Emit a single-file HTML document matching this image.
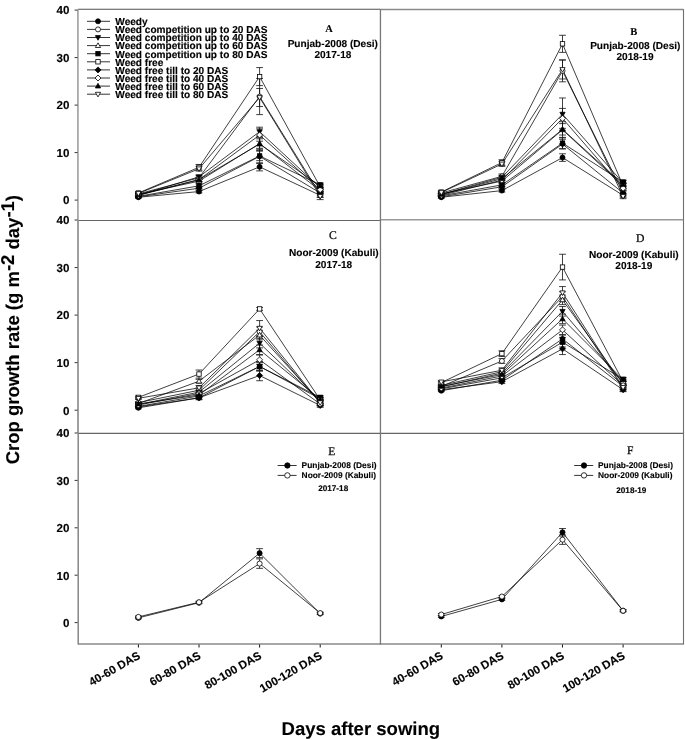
<!DOCTYPE html><html><head><meta charset="utf-8"><style>html,body{margin:0;padding:0;background:#fff;width:685px;height:740px;overflow:hidden}svg{display:block;filter:grayscale(1)}text{font-family:"Liberation Sans",sans-serif;font-weight:bold;fill:#000;text-rendering:geometricPrecision;stroke:#000;stroke-width:0.12px}.sr{font-family:"Liberation Serif",serif}</style></head><body>
<svg width="685" height="740" viewBox="0 0 685 740">
<g fill="none">
<path d="M78 9.3H380.5" stroke="#505050" stroke-width="1.1"/>
<path d="M380.5 9.6H683.5" stroke="#8a8a8a" stroke-width="1.5"/>
<path d="M78 220.5H380.5" stroke="#666" stroke-width="1.2"/>
<path d="M380.5 219.8H683.5" stroke="#999" stroke-width="1.6"/>
<path d="M78 433.4H683.5" stroke="#666" stroke-width="1.2"/>
<path d="M78 644H683.5" stroke="#888" stroke-width="1.6"/>
<path d="M77.9 9.3V220" stroke="#a8a8a8" stroke-width="1.8"/>
<path d="M78.0 220V433.4" stroke="#959595" stroke-width="1.8"/>
<path d="M78.2 433.4V644.5" stroke="#858585" stroke-width="1.5"/>
<path d="M380.45 9.3V644.5" stroke="#777" stroke-width="1.3"/>
<path d="M683.5 9.3V644.5" stroke="#707070" stroke-width="1.1"/>
</g>
<g stroke="#333" stroke-width="1">
<line x1="74.6" y1="200.10" x2="77.5" y2="200.10"/>
<line x1="74.6" y1="152.60" x2="77.5" y2="152.60"/>
<line x1="74.6" y1="105.10" x2="77.5" y2="105.10"/>
<line x1="74.6" y1="57.60" x2="77.5" y2="57.60"/>
<line x1="74.6" y1="10.10" x2="77.5" y2="10.10"/>
<line x1="74.6" y1="410.20" x2="77.5" y2="410.20"/>
<line x1="74.6" y1="362.65" x2="77.5" y2="362.65"/>
<line x1="74.6" y1="315.10" x2="77.5" y2="315.10"/>
<line x1="74.6" y1="267.55" x2="77.5" y2="267.55"/>
<line x1="74.6" y1="220.00" x2="77.5" y2="220.00"/>
<line x1="74.6" y1="622.60" x2="77.5" y2="622.60"/>
<line x1="74.6" y1="575.20" x2="77.5" y2="575.20"/>
<line x1="74.6" y1="527.80" x2="77.5" y2="527.80"/>
<line x1="74.6" y1="480.40" x2="77.5" y2="480.40"/>
<line x1="74.6" y1="433.00" x2="77.5" y2="433.00"/>
</g>
<text x="69.4" y="204.40" font-size="11.6" text-anchor="end">0</text>
<text x="69.4" y="156.90" font-size="11.6" text-anchor="end">10</text>
<text x="69.4" y="109.40" font-size="11.6" text-anchor="end">20</text>
<text x="69.4" y="61.90" font-size="11.6" text-anchor="end">30</text>
<text x="69.4" y="14.40" font-size="11.6" text-anchor="end">40</text>
<text x="69.4" y="414.50" font-size="11.6" text-anchor="end">0</text>
<text x="69.4" y="366.95" font-size="11.6" text-anchor="end">10</text>
<text x="69.4" y="319.40" font-size="11.6" text-anchor="end">20</text>
<text x="69.4" y="271.85" font-size="11.6" text-anchor="end">30</text>
<text x="69.4" y="224.30" font-size="11.6" text-anchor="end">40</text>
<text x="69.4" y="626.90" font-size="11.6" text-anchor="end">0</text>
<text x="69.4" y="579.50" font-size="11.6" text-anchor="end">10</text>
<text x="69.4" y="532.10" font-size="11.6" text-anchor="end">20</text>
<text x="69.4" y="484.70" font-size="11.6" text-anchor="end">30</text>
<text x="69.4" y="437.30" font-size="11.6" text-anchor="end">40</text>
<g stroke="#111" stroke-width="1">
<line x1="138.40" y1="644.5" x2="138.40" y2="647.5"/>
<line x1="199.00" y1="644.5" x2="199.00" y2="647.5"/>
<line x1="259.60" y1="644.5" x2="259.60" y2="647.5"/>
<line x1="320.20" y1="644.5" x2="320.20" y2="647.5"/>
<line x1="441.30" y1="644.5" x2="441.30" y2="647.5"/>
<line x1="501.90" y1="644.5" x2="501.90" y2="647.5"/>
<line x1="562.50" y1="644.5" x2="562.50" y2="647.5"/>
<line x1="623.10" y1="644.5" x2="623.10" y2="647.5"/>
</g>
<text font-size="11.5" text-anchor="end" transform="translate(141.10,657.8) rotate(-30)">40-60 DAS</text>
<text font-size="11.5" text-anchor="end" transform="translate(201.70,657.8) rotate(-30)">60-80 DAS</text>
<text font-size="11.5" text-anchor="end" transform="translate(262.30,657.8) rotate(-30)">80-100 DAS</text>
<text font-size="11.5" text-anchor="end" transform="translate(322.90,657.8) rotate(-30)">100-120 DAS</text>
<text font-size="11.5" text-anchor="end" transform="translate(444.00,657.8) rotate(-30)">40-60 DAS</text>
<text font-size="11.5" text-anchor="end" transform="translate(504.60,657.8) rotate(-30)">60-80 DAS</text>
<text font-size="11.5" text-anchor="end" transform="translate(565.20,657.8) rotate(-30)">80-100 DAS</text>
<text font-size="11.5" text-anchor="end" transform="translate(625.80,657.8) rotate(-30)">100-120 DAS</text>
<text x="360.8" y="735.3" font-size="18.55" text-anchor="middle">Days after sowing</text>
<text font-size="18.5" text-anchor="middle" transform="translate(19.25,329.65) rotate(-90)">Crop growth rate (g m<tspan dy="-4.85">-2</tspan><tspan dy="4.85"> day</tspan><tspan dy="-4.85">-1</tspan><tspan dy="4.85">)</tspan></text>
<path d="M138.40 197.25L199.00 191.55L259.60 166.85L320.20 195.35" fill="none" stroke="#000" stroke-width="0.75"/><path d="M138.40 196.30V198.20M135.00 196.30H141.80M135.00 198.20H141.80" stroke="#111" stroke-width="0.8" fill="none"/><path d="M199.00 190.12V192.97M195.60 190.12H202.40M195.60 192.97H202.40" stroke="#111" stroke-width="0.8" fill="none"/><path d="M259.60 162.81V170.89M256.20 162.81H263.00M256.20 170.89H263.00" stroke="#111" stroke-width="0.8" fill="none"/><path d="M320.20 193.45V197.25M316.80 193.45H323.60M316.80 197.25H323.60" stroke="#111" stroke-width="0.8" fill="none"/><path d="M138.40 193.92L199.00 177.78L259.60 96.55L320.20 194.40" fill="none" stroke="#000" stroke-width="0.75"/><path d="M138.40 192.97V194.88M135.00 192.97H141.80M135.00 194.88H141.80" stroke="#111" stroke-width="0.8" fill="none"/><path d="M199.00 175.88V179.67M195.60 175.88H202.40M195.60 179.67H202.40" stroke="#111" stroke-width="0.8" fill="none"/><path d="M259.60 78.50V114.60M256.20 78.50H263.00M256.20 114.60H263.00" stroke="#111" stroke-width="0.8" fill="none"/><path d="M320.20 191.55V197.25M316.80 191.55H323.60M316.80 197.25H323.60" stroke="#111" stroke-width="0.8" fill="none"/><path d="M138.40 195.35L199.00 176.82L259.60 131.70L320.20 187.75" fill="none" stroke="#000" stroke-width="0.75"/><path d="M138.40 194.40V196.30M135.00 194.40H141.80M135.00 196.30H141.80" stroke="#111" stroke-width="0.8" fill="none"/><path d="M199.00 174.92V178.72M195.60 174.92H202.40M195.60 178.72H202.40" stroke="#111" stroke-width="0.8" fill="none"/><path d="M259.60 127.19V136.21M256.20 127.19H263.00M256.20 136.21H263.00" stroke="#111" stroke-width="0.8" fill="none"/><path d="M320.20 185.38V190.12M316.80 185.38H323.60M316.80 190.12H323.60" stroke="#111" stroke-width="0.8" fill="none"/><path d="M138.40 194.40L199.00 181.10L259.60 143.57L320.20 190.60" fill="none" stroke="#000" stroke-width="0.75"/><path d="M138.40 193.45V195.35M135.00 193.45H141.80M135.00 195.35H141.80" stroke="#111" stroke-width="0.8" fill="none"/><path d="M199.00 179.20V183.00M195.60 179.20H202.40M195.60 183.00H202.40" stroke="#111" stroke-width="0.8" fill="none"/><path d="M259.60 138.82V148.32M256.20 138.82H263.00M256.20 148.32H263.00" stroke="#111" stroke-width="0.8" fill="none"/><path d="M320.20 188.22V192.97M316.80 188.22H323.60M316.80 192.97H323.60" stroke="#111" stroke-width="0.8" fill="none"/><path d="M138.40 196.30L199.00 185.85L259.60 155.92L320.20 184.90" fill="none" stroke="#000" stroke-width="0.75"/><path d="M138.40 195.35V197.25M135.00 195.35H141.80M135.00 197.25H141.80" stroke="#111" stroke-width="0.8" fill="none"/><path d="M199.00 183.95V187.75M195.60 183.95H202.40M195.60 187.75H202.40" stroke="#111" stroke-width="0.8" fill="none"/><path d="M259.60 151.17V160.67M256.20 151.17H263.00M256.20 160.67H263.00" stroke="#111" stroke-width="0.8" fill="none"/><path d="M320.20 183.00V186.80M316.80 183.00H323.60M316.80 186.80H323.60" stroke="#111" stroke-width="0.8" fill="none"/><path d="M138.40 192.97L199.00 167.32L259.60 76.60L320.20 186.80" fill="none" stroke="#000" stroke-width="0.75"/><path d="M138.40 191.55V194.40M135.00 191.55H141.80M135.00 194.40H141.80" stroke="#111" stroke-width="0.8" fill="none"/><path d="M199.00 164.47V170.17M195.60 164.47H202.40M195.60 170.17H202.40" stroke="#111" stroke-width="0.8" fill="none"/><path d="M259.60 67.57V85.62M256.20 67.57H263.00M256.20 85.62H263.00" stroke="#111" stroke-width="0.8" fill="none"/><path d="M320.20 184.42V189.17M316.80 184.42H323.60M316.80 189.17H323.60" stroke="#111" stroke-width="0.8" fill="none"/><path d="M138.40 196.78L199.00 188.22L259.60 156.40L320.20 192.97" fill="none" stroke="#000" stroke-width="0.75"/><path d="M138.40 195.82V197.72M135.00 195.82H141.80M135.00 197.72H141.80" stroke="#111" stroke-width="0.8" fill="none"/><path d="M199.00 186.32V190.12M195.60 186.32H202.40M195.60 190.12H202.40" stroke="#111" stroke-width="0.8" fill="none"/><path d="M259.60 149.28V163.53M256.20 149.28H263.00M256.20 163.53H263.00" stroke="#111" stroke-width="0.8" fill="none"/><path d="M320.20 191.07V194.88M316.80 191.07H323.60M316.80 194.88H323.60" stroke="#111" stroke-width="0.8" fill="none"/><path d="M138.40 195.35L199.00 179.67L259.60 135.02L320.20 189.65" fill="none" stroke="#000" stroke-width="0.75"/><path d="M138.40 194.40V196.30M135.00 194.40H141.80M135.00 196.30H141.80" stroke="#111" stroke-width="0.8" fill="none"/><path d="M199.00 177.78V181.57M195.60 177.78H202.40M195.60 181.57H202.40" stroke="#111" stroke-width="0.8" fill="none"/><path d="M259.60 128.85V141.20M256.20 128.85H263.00M256.20 141.20H263.00" stroke="#111" stroke-width="0.8" fill="none"/><path d="M320.20 187.75V191.55M316.80 187.75H323.60M316.80 191.55H323.60" stroke="#111" stroke-width="0.8" fill="none"/><path d="M138.40 194.88L199.00 179.67L259.60 144.05L320.20 185.85" fill="none" stroke="#000" stroke-width="0.75"/><path d="M138.40 193.92V195.82M135.00 193.92H141.80M135.00 195.82H141.80" stroke="#111" stroke-width="0.8" fill="none"/><path d="M199.00 177.78V181.57M195.60 177.78H202.40M195.60 181.57H202.40" stroke="#111" stroke-width="0.8" fill="none"/><path d="M259.60 137.64V150.46M256.20 137.64H263.00M256.20 150.46H263.00" stroke="#111" stroke-width="0.8" fill="none"/><path d="M320.20 183.95V187.75M316.80 183.95H323.60M316.80 187.75H323.60" stroke="#111" stroke-width="0.8" fill="none"/><path d="M138.40 193.45L199.00 168.75L259.60 97.50L320.20 196.30" fill="none" stroke="#000" stroke-width="0.75"/><path d="M138.40 192.50V194.40M135.00 192.50H141.80M135.00 194.40H141.80" stroke="#111" stroke-width="0.8" fill="none"/><path d="M199.00 166.38V171.12M195.60 166.38H202.40M195.60 171.12H202.40" stroke="#111" stroke-width="0.8" fill="none"/><path d="M259.60 88.47V106.52M256.20 88.47H263.00M256.20 106.52H263.00" stroke="#111" stroke-width="0.8" fill="none"/><path d="M320.20 192.97V199.62M316.80 192.97H323.60M316.80 199.62H323.60" stroke="#111" stroke-width="0.8" fill="none"/>
<circle cx="138.40" cy="197.25" r="2.50" fill="#000" stroke="#000" stroke-width="0.8"/>
<circle cx="199.00" cy="191.55" r="2.50" fill="#000" stroke="#000" stroke-width="0.8"/>
<circle cx="259.60" cy="166.85" r="2.50" fill="#000" stroke="#000" stroke-width="0.8"/>
<circle cx="320.20" cy="195.35" r="2.50" fill="#000" stroke="#000" stroke-width="0.8"/>
<circle cx="138.40" cy="193.92" r="2.50" fill="#fff" stroke="#000" stroke-width="0.8"/>
<circle cx="199.00" cy="177.78" r="2.50" fill="#fff" stroke="#000" stroke-width="0.8"/>
<circle cx="259.60" cy="96.55" r="2.50" fill="#fff" stroke="#000" stroke-width="0.8"/>
<circle cx="320.20" cy="194.40" r="2.50" fill="#fff" stroke="#000" stroke-width="0.8"/>
<path d="M138.40 198.10L141.03 193.47L135.78 193.47Z" fill="#000" stroke="#000" stroke-width="0.8"/>
<path d="M199.00 179.57L201.62 174.95L196.38 174.95Z" fill="#000" stroke="#000" stroke-width="0.8"/>
<path d="M259.60 134.45L262.23 129.82L256.98 129.82Z" fill="#000" stroke="#000" stroke-width="0.8"/>
<path d="M320.20 190.50L322.83 185.88L317.58 185.88Z" fill="#000" stroke="#000" stroke-width="0.8"/>
<path d="M138.40 191.65L141.03 196.28L135.78 196.28Z" fill="#fff" stroke="#000" stroke-width="0.8"/>
<path d="M199.00 178.35L201.62 182.97L196.38 182.97Z" fill="#fff" stroke="#000" stroke-width="0.8"/>
<path d="M259.60 140.82L262.23 145.45L256.98 145.45Z" fill="#fff" stroke="#000" stroke-width="0.8"/>
<path d="M320.20 187.85L322.83 192.47L317.58 192.47Z" fill="#fff" stroke="#000" stroke-width="0.8"/>
<rect x="136.20" y="194.10" width="4.40" height="4.40" fill="#000" stroke="#000" stroke-width="0.8"/>
<rect x="196.80" y="183.65" width="4.40" height="4.40" fill="#000" stroke="#000" stroke-width="0.8"/>
<rect x="257.40" y="153.72" width="4.40" height="4.40" fill="#000" stroke="#000" stroke-width="0.8"/>
<rect x="318.00" y="182.70" width="4.40" height="4.40" fill="#000" stroke="#000" stroke-width="0.8"/>
<rect x="136.20" y="190.78" width="4.40" height="4.40" fill="#fff" stroke="#000" stroke-width="0.8"/>
<rect x="196.80" y="165.12" width="4.40" height="4.40" fill="#fff" stroke="#000" stroke-width="0.8"/>
<rect x="257.40" y="74.40" width="4.40" height="4.40" fill="#fff" stroke="#000" stroke-width="0.8"/>
<rect x="318.00" y="184.60" width="4.40" height="4.40" fill="#fff" stroke="#000" stroke-width="0.8"/>
<path d="M138.40 193.78L141.40 196.78L138.40 199.78L135.40 196.78Z" fill="#000" stroke="#000" stroke-width="0.8"/>
<path d="M199.00 185.22L202.00 188.22L199.00 191.22L196.00 188.22Z" fill="#000" stroke="#000" stroke-width="0.8"/>
<path d="M259.60 153.40L262.60 156.40L259.60 159.40L256.60 156.40Z" fill="#000" stroke="#000" stroke-width="0.8"/>
<path d="M320.20 189.97L323.20 192.97L320.20 195.97L317.20 192.97Z" fill="#000" stroke="#000" stroke-width="0.8"/>
<path d="M138.40 192.35L141.40 195.35L138.40 198.35L135.40 195.35Z" fill="#fff" stroke="#000" stroke-width="0.8"/>
<path d="M199.00 176.67L202.00 179.67L199.00 182.67L196.00 179.67Z" fill="#fff" stroke="#000" stroke-width="0.8"/>
<path d="M259.60 132.02L262.60 135.02L259.60 138.02L256.60 135.02Z" fill="#fff" stroke="#000" stroke-width="0.8"/>
<path d="M320.20 186.65L323.20 189.65L320.20 192.65L317.20 189.65Z" fill="#fff" stroke="#000" stroke-width="0.8"/>
<path d="M138.40 192.12L141.03 196.75L135.78 196.75Z" fill="#000" stroke="#000" stroke-width="0.8"/>
<path d="M199.00 176.92L201.62 181.55L196.38 181.55Z" fill="#000" stroke="#000" stroke-width="0.8"/>
<path d="M259.60 141.30L262.23 145.93L256.98 145.93Z" fill="#000" stroke="#000" stroke-width="0.8"/>
<path d="M320.20 183.10L322.83 187.72L317.58 187.72Z" fill="#000" stroke="#000" stroke-width="0.8"/>
<path d="M138.40 196.20L141.03 191.57L135.78 191.57Z" fill="#fff" stroke="#000" stroke-width="0.8"/>
<path d="M199.00 171.50L201.62 166.88L196.38 166.88Z" fill="#fff" stroke="#000" stroke-width="0.8"/>
<path d="M259.60 100.25L262.23 95.62L256.98 95.62Z" fill="#fff" stroke="#000" stroke-width="0.8"/>
<path d="M320.20 199.05L322.83 194.42L317.58 194.42Z" fill="#fff" stroke="#000" stroke-width="0.8"/>
<path d="M441.30 197.25L501.90 190.60L562.50 157.59L623.10 195.35" fill="none" stroke="#000" stroke-width="0.75"/><path d="M441.30 196.30V198.20M437.90 196.30H444.70M437.90 198.20H444.70" stroke="#111" stroke-width="0.8" fill="none"/><path d="M501.90 189.17V192.03M498.50 189.17H505.30M498.50 192.03H505.30" stroke="#111" stroke-width="0.8" fill="none"/><path d="M562.50 153.79V161.39M559.10 153.79H565.90M559.10 161.39H565.90" stroke="#111" stroke-width="0.8" fill="none"/><path d="M623.10 193.45V197.25M619.70 193.45H626.50M619.70 197.25H626.50" stroke="#111" stroke-width="0.8" fill="none"/><path d="M441.30 192.97L501.90 176.35L562.50 70.90L623.10 192.97" fill="none" stroke="#000" stroke-width="0.75"/><path d="M441.30 192.03V193.92M437.90 192.03H444.70M437.90 193.92H444.70" stroke="#111" stroke-width="0.8" fill="none"/><path d="M501.90 173.97V178.72M498.50 173.97H505.30M498.50 178.72H505.30" stroke="#111" stroke-width="0.8" fill="none"/><path d="M562.50 59.97V81.82M559.10 59.97H565.90M559.10 81.82H565.90" stroke="#111" stroke-width="0.8" fill="none"/><path d="M623.10 190.12V195.82M619.70 190.12H626.50M619.70 195.82H626.50" stroke="#111" stroke-width="0.8" fill="none"/><path d="M441.30 194.40L501.90 177.30L562.50 114.12L623.10 183.00" fill="none" stroke="#000" stroke-width="0.75"/><path d="M441.30 193.45V195.35M437.90 193.45H444.70M437.90 195.35H444.70" stroke="#111" stroke-width="0.8" fill="none"/><path d="M501.90 175.40V179.20M498.50 175.40H505.30M498.50 179.20H505.30" stroke="#111" stroke-width="0.8" fill="none"/><path d="M562.50 97.97V130.27M559.10 97.97H565.90M559.10 130.27H565.90" stroke="#111" stroke-width="0.8" fill="none"/><path d="M623.10 180.62V185.38M619.70 180.62H626.50M619.70 185.38H626.50" stroke="#111" stroke-width="0.8" fill="none"/><path d="M441.30 193.92L501.90 181.10L562.50 129.80L623.10 185.85" fill="none" stroke="#000" stroke-width="0.75"/><path d="M441.30 192.97V194.88M437.90 192.97H444.70M437.90 194.88H444.70" stroke="#111" stroke-width="0.8" fill="none"/><path d="M501.90 179.20V183.00M498.50 179.20H505.30M498.50 183.00H505.30" stroke="#111" stroke-width="0.8" fill="none"/><path d="M562.50 121.72V137.88M559.10 121.72H565.90M559.10 137.88H565.90" stroke="#111" stroke-width="0.8" fill="none"/><path d="M623.10 183.47V188.22M619.70 183.47H626.50M619.70 188.22H626.50" stroke="#111" stroke-width="0.8" fill="none"/><path d="M441.30 195.82L501.90 184.90L562.50 143.10L623.10 182.05" fill="none" stroke="#000" stroke-width="0.75"/><path d="M441.30 194.88V196.78M437.90 194.88H444.70M437.90 196.78H444.70" stroke="#111" stroke-width="0.8" fill="none"/><path d="M501.90 183.00V186.80M498.50 183.00H505.30M498.50 186.80H505.30" stroke="#111" stroke-width="0.8" fill="none"/><path d="M562.50 137.40V148.80M559.10 137.40H565.90M559.10 148.80H565.90" stroke="#111" stroke-width="0.8" fill="none"/><path d="M623.10 180.15V183.95M619.70 180.15H626.50M619.70 183.95H626.50" stroke="#111" stroke-width="0.8" fill="none"/><path d="M441.30 192.03L501.90 162.57L562.50 43.82L623.10 185.85" fill="none" stroke="#000" stroke-width="0.75"/><path d="M441.30 190.60V193.45M437.90 190.60H444.70M437.90 193.45H444.70" stroke="#111" stroke-width="0.8" fill="none"/><path d="M501.90 159.72V165.42M498.50 159.72H505.30M498.50 165.42H505.30" stroke="#111" stroke-width="0.8" fill="none"/><path d="M562.50 35.28V52.38M559.10 35.28H565.90M559.10 52.38H565.90" stroke="#111" stroke-width="0.8" fill="none"/><path d="M623.10 183.47V188.22M619.70 183.47H626.50M619.70 188.22H626.50" stroke="#111" stroke-width="0.8" fill="none"/><path d="M441.30 196.78L501.90 186.80L562.50 144.05L623.10 192.97" fill="none" stroke="#000" stroke-width="0.75"/><path d="M441.30 195.82V197.72M437.90 195.82H444.70M437.90 197.72H444.70" stroke="#111" stroke-width="0.8" fill="none"/><path d="M501.90 184.90V188.70M498.50 184.90H505.30M498.50 188.70H505.30" stroke="#111" stroke-width="0.8" fill="none"/><path d="M562.50 139.30V148.80M559.10 139.30H565.90M559.10 148.80H565.90" stroke="#111" stroke-width="0.8" fill="none"/><path d="M623.10 191.07V194.88M619.70 191.07H626.50M619.70 194.88H626.50" stroke="#111" stroke-width="0.8" fill="none"/><path d="M441.30 195.35L501.90 180.15L562.50 118.40L623.10 188.22" fill="none" stroke="#000" stroke-width="0.75"/><path d="M441.30 194.40V196.30M437.90 194.40H444.70M437.90 196.30H444.70" stroke="#111" stroke-width="0.8" fill="none"/><path d="M501.90 178.25V182.05M498.50 178.25H505.30M498.50 182.05H505.30" stroke="#111" stroke-width="0.8" fill="none"/><path d="M562.50 108.42V128.38M559.10 108.42H565.90M559.10 128.38H565.90" stroke="#111" stroke-width="0.8" fill="none"/><path d="M623.10 186.32V190.12M619.70 186.32H626.50M619.70 190.12H626.50" stroke="#111" stroke-width="0.8" fill="none"/><path d="M441.30 194.40L501.90 178.72L562.50 129.32L623.10 184.42" fill="none" stroke="#000" stroke-width="0.75"/><path d="M441.30 193.45V195.35M437.90 193.45H444.70M437.90 195.35H444.70" stroke="#111" stroke-width="0.8" fill="none"/><path d="M501.90 176.82V180.62M498.50 176.82H505.30M498.50 180.62H505.30" stroke="#111" stroke-width="0.8" fill="none"/><path d="M562.50 123.62V135.02M559.10 123.62H565.90M559.10 135.02H565.90" stroke="#111" stroke-width="0.8" fill="none"/><path d="M623.10 182.53V186.32M619.70 182.53H626.50M619.70 186.32H626.50" stroke="#111" stroke-width="0.8" fill="none"/><path d="M441.30 192.50L501.90 164.00L562.50 69.47L623.10 196.30" fill="none" stroke="#000" stroke-width="0.75"/><path d="M441.30 191.55V193.45M437.90 191.55H444.70M437.90 193.45H444.70" stroke="#111" stroke-width="0.8" fill="none"/><path d="M501.90 161.62V166.38M498.50 161.62H505.30M498.50 166.38H505.30" stroke="#111" stroke-width="0.8" fill="none"/><path d="M562.50 59.97V78.97M559.10 59.97H565.90M559.10 78.97H565.90" stroke="#111" stroke-width="0.8" fill="none"/><path d="M623.10 193.92V198.67M619.70 193.92H626.50M619.70 198.67H626.50" stroke="#111" stroke-width="0.8" fill="none"/>
<circle cx="441.30" cy="197.25" r="2.50" fill="#000" stroke="#000" stroke-width="0.8"/>
<circle cx="501.90" cy="190.60" r="2.50" fill="#000" stroke="#000" stroke-width="0.8"/>
<circle cx="562.50" cy="157.59" r="2.50" fill="#000" stroke="#000" stroke-width="0.8"/>
<circle cx="623.10" cy="195.35" r="2.50" fill="#000" stroke="#000" stroke-width="0.8"/>
<circle cx="441.30" cy="192.97" r="2.50" fill="#fff" stroke="#000" stroke-width="0.8"/>
<circle cx="501.90" cy="176.35" r="2.50" fill="#fff" stroke="#000" stroke-width="0.8"/>
<circle cx="562.50" cy="70.90" r="2.50" fill="#fff" stroke="#000" stroke-width="0.8"/>
<circle cx="623.10" cy="192.97" r="2.50" fill="#fff" stroke="#000" stroke-width="0.8"/>
<path d="M441.30 197.15L443.93 192.53L438.68 192.53Z" fill="#000" stroke="#000" stroke-width="0.8"/>
<path d="M501.90 180.05L504.53 175.42L499.28 175.42Z" fill="#000" stroke="#000" stroke-width="0.8"/>
<path d="M562.50 116.87L565.12 112.25L559.88 112.25Z" fill="#000" stroke="#000" stroke-width="0.8"/>
<path d="M623.10 185.75L625.73 181.12L620.48 181.12Z" fill="#000" stroke="#000" stroke-width="0.8"/>
<path d="M441.30 191.17L443.93 195.80L438.68 195.80Z" fill="#fff" stroke="#000" stroke-width="0.8"/>
<path d="M501.90 178.35L504.53 182.97L499.28 182.97Z" fill="#fff" stroke="#000" stroke-width="0.8"/>
<path d="M562.50 127.05L565.12 131.68L559.88 131.68Z" fill="#fff" stroke="#000" stroke-width="0.8"/>
<path d="M623.10 183.10L625.73 187.72L620.48 187.72Z" fill="#fff" stroke="#000" stroke-width="0.8"/>
<rect x="439.10" y="193.62" width="4.40" height="4.40" fill="#000" stroke="#000" stroke-width="0.8"/>
<rect x="499.70" y="182.70" width="4.40" height="4.40" fill="#000" stroke="#000" stroke-width="0.8"/>
<rect x="560.30" y="140.90" width="4.40" height="4.40" fill="#000" stroke="#000" stroke-width="0.8"/>
<rect x="620.90" y="179.85" width="4.40" height="4.40" fill="#000" stroke="#000" stroke-width="0.8"/>
<rect x="439.10" y="189.83" width="4.40" height="4.40" fill="#fff" stroke="#000" stroke-width="0.8"/>
<rect x="499.70" y="160.38" width="4.40" height="4.40" fill="#fff" stroke="#000" stroke-width="0.8"/>
<rect x="560.30" y="41.62" width="4.40" height="4.40" fill="#fff" stroke="#000" stroke-width="0.8"/>
<rect x="620.90" y="183.65" width="4.40" height="4.40" fill="#fff" stroke="#000" stroke-width="0.8"/>
<path d="M441.30 193.78L444.30 196.78L441.30 199.78L438.30 196.78Z" fill="#000" stroke="#000" stroke-width="0.8"/>
<path d="M501.90 183.80L504.90 186.80L501.90 189.80L498.90 186.80Z" fill="#000" stroke="#000" stroke-width="0.8"/>
<path d="M562.50 141.05L565.50 144.05L562.50 147.05L559.50 144.05Z" fill="#000" stroke="#000" stroke-width="0.8"/>
<path d="M623.10 189.97L626.10 192.97L623.10 195.97L620.10 192.97Z" fill="#000" stroke="#000" stroke-width="0.8"/>
<path d="M441.30 192.35L444.30 195.35L441.30 198.35L438.30 195.35Z" fill="#fff" stroke="#000" stroke-width="0.8"/>
<path d="M501.90 177.15L504.90 180.15L501.90 183.15L498.90 180.15Z" fill="#fff" stroke="#000" stroke-width="0.8"/>
<path d="M562.50 115.40L565.50 118.40L562.50 121.40L559.50 118.40Z" fill="#fff" stroke="#000" stroke-width="0.8"/>
<path d="M623.10 185.22L626.10 188.22L623.10 191.22L620.10 188.22Z" fill="#fff" stroke="#000" stroke-width="0.8"/>
<path d="M441.30 191.65L443.93 196.28L438.68 196.28Z" fill="#000" stroke="#000" stroke-width="0.8"/>
<path d="M501.90 175.97L504.53 180.60L499.28 180.60Z" fill="#000" stroke="#000" stroke-width="0.8"/>
<path d="M562.50 126.57L565.12 131.20L559.88 131.20Z" fill="#000" stroke="#000" stroke-width="0.8"/>
<path d="M623.10 181.67L625.73 186.30L620.48 186.30Z" fill="#000" stroke="#000" stroke-width="0.8"/>
<path d="M441.30 195.25L443.93 190.62L438.68 190.62Z" fill="#fff" stroke="#000" stroke-width="0.8"/>
<path d="M501.90 166.75L504.53 162.12L499.28 162.12Z" fill="#fff" stroke="#000" stroke-width="0.8"/>
<path d="M562.50 72.22L565.12 67.60L559.88 67.60Z" fill="#fff" stroke="#000" stroke-width="0.8"/>
<path d="M623.10 199.05L625.73 194.42L620.48 194.42Z" fill="#fff" stroke="#000" stroke-width="0.8"/>
<path d="M138.40 407.82L199.00 397.84L259.60 366.45L320.20 398.79" fill="none" stroke="#000" stroke-width="0.75"/><path d="M138.40 406.87V408.77M135.00 406.87H141.80M135.00 408.77H141.80" stroke="#111" stroke-width="0.8" fill="none"/><path d="M199.00 396.41V399.26M195.60 396.41H202.40M195.60 399.26H202.40" stroke="#111" stroke-width="0.8" fill="none"/><path d="M259.60 362.65V370.26M256.20 362.65H263.00M256.20 370.26H263.00" stroke="#111" stroke-width="0.8" fill="none"/><path d="M320.20 396.89V400.69M316.80 396.89H323.60M316.80 400.69H323.60" stroke="#111" stroke-width="0.8" fill="none"/><path d="M138.40 402.59L199.00 390.23L259.60 331.74L320.20 403.07" fill="none" stroke="#000" stroke-width="0.75"/><path d="M138.40 401.64V403.54M135.00 401.64H141.80M135.00 403.54H141.80" stroke="#111" stroke-width="0.8" fill="none"/><path d="M199.00 387.85V392.61M195.60 387.85H202.40M195.60 392.61H202.40" stroke="#111" stroke-width="0.8" fill="none"/><path d="M259.60 326.99V336.50M256.20 326.99H263.00M256.20 336.50H263.00" stroke="#111" stroke-width="0.8" fill="none"/><path d="M320.20 400.21V405.92M316.80 400.21H323.60M316.80 405.92H323.60" stroke="#111" stroke-width="0.8" fill="none"/><path d="M138.40 404.49L199.00 392.13L259.60 343.15L320.20 401.17" fill="none" stroke="#000" stroke-width="0.75"/><path d="M138.40 403.54V405.44M135.00 403.54H141.80M135.00 405.44H141.80" stroke="#111" stroke-width="0.8" fill="none"/><path d="M199.00 390.23V394.03M195.60 390.23H202.40M195.60 394.03H202.40" stroke="#111" stroke-width="0.8" fill="none"/><path d="M259.60 338.40V347.91M256.20 338.40H263.00M256.20 347.91H263.00" stroke="#111" stroke-width="0.8" fill="none"/><path d="M320.20 398.79V403.54M316.80 398.79H323.60M316.80 403.54H323.60" stroke="#111" stroke-width="0.8" fill="none"/><path d="M138.40 403.54L199.00 381.19L259.60 335.07L320.20 402.12" fill="none" stroke="#000" stroke-width="0.75"/><path d="M138.40 402.59V404.49M135.00 402.59H141.80M135.00 404.49H141.80" stroke="#111" stroke-width="0.8" fill="none"/><path d="M199.00 379.29V383.10M195.60 379.29H202.40M195.60 383.10H202.40" stroke="#111" stroke-width="0.8" fill="none"/><path d="M259.60 330.32V339.83M256.20 330.32H263.00M256.20 339.83H263.00" stroke="#111" stroke-width="0.8" fill="none"/><path d="M320.20 399.74V404.49M316.80 399.74H323.60M316.80 404.49H323.60" stroke="#111" stroke-width="0.8" fill="none"/><path d="M138.40 406.40L199.00 395.94L259.60 366.45L320.20 397.36" fill="none" stroke="#000" stroke-width="0.75"/><path d="M138.40 405.44V407.35M135.00 405.44H141.80M135.00 407.35H141.80" stroke="#111" stroke-width="0.8" fill="none"/><path d="M199.00 394.03V397.84M195.60 394.03H202.40M195.60 397.84H202.40" stroke="#111" stroke-width="0.8" fill="none"/><path d="M259.60 361.70V371.21M256.20 361.70H263.00M256.20 371.21H263.00" stroke="#111" stroke-width="0.8" fill="none"/><path d="M320.20 395.46V399.26M316.80 395.46H323.60M316.80 399.26H323.60" stroke="#111" stroke-width="0.8" fill="none"/><path d="M138.40 397.36L199.00 374.06L259.60 308.92L320.20 399.74" fill="none" stroke="#000" stroke-width="0.75"/><path d="M138.40 395.94V398.79M135.00 395.94H141.80M135.00 398.79H141.80" stroke="#111" stroke-width="0.8" fill="none"/><path d="M199.00 370.02V378.10M195.60 370.02H202.40M195.60 378.10H202.40" stroke="#111" stroke-width="0.8" fill="none"/><path d="M259.60 307.49V310.35M256.20 307.49H263.00M256.20 310.35H263.00" stroke="#111" stroke-width="0.8" fill="none"/><path d="M320.20 397.36V402.12M316.80 397.36H323.60M316.80 402.12H323.60" stroke="#111" stroke-width="0.8" fill="none"/><path d="M138.40 406.87L199.00 397.84L259.60 375.49L320.20 405.44" fill="none" stroke="#000" stroke-width="0.75"/><path d="M138.40 405.92V407.82M135.00 405.92H141.80M135.00 407.82H141.80" stroke="#111" stroke-width="0.8" fill="none"/><path d="M199.00 395.94V399.74M195.60 395.94H202.40M195.60 399.74H202.40" stroke="#111" stroke-width="0.8" fill="none"/><path d="M259.60 370.26V380.72M256.20 370.26H263.00M256.20 380.72H263.00" stroke="#111" stroke-width="0.8" fill="none"/><path d="M320.20 403.54V407.35M316.80 403.54H323.60M316.80 407.35H323.60" stroke="#111" stroke-width="0.8" fill="none"/><path d="M138.40 404.97L199.00 393.56L259.60 359.80L320.20 404.02" fill="none" stroke="#000" stroke-width="0.75"/><path d="M138.40 404.02V405.92M135.00 404.02H141.80M135.00 405.92H141.80" stroke="#111" stroke-width="0.8" fill="none"/><path d="M199.00 391.66V395.46M195.60 391.66H202.40M195.60 395.46H202.40" stroke="#111" stroke-width="0.8" fill="none"/><path d="M259.60 355.04V364.55M256.20 355.04H263.00M256.20 364.55H263.00" stroke="#111" stroke-width="0.8" fill="none"/><path d="M320.20 402.12V405.92M316.80 402.12H323.60M316.80 405.92H323.60" stroke="#111" stroke-width="0.8" fill="none"/><path d="M138.40 404.02L199.00 394.98L259.60 349.81L320.20 399.26" fill="none" stroke="#000" stroke-width="0.75"/><path d="M138.40 403.07V404.97M135.00 403.07H141.80M135.00 404.97H141.80" stroke="#111" stroke-width="0.8" fill="none"/><path d="M199.00 393.08V396.89M195.60 393.08H202.40M195.60 396.89H202.40" stroke="#111" stroke-width="0.8" fill="none"/><path d="M259.60 345.06V354.57M256.20 345.06H263.00M256.20 354.57H263.00" stroke="#111" stroke-width="0.8" fill="none"/><path d="M320.20 397.36V401.17M316.80 397.36H323.60M316.80 401.17H323.60" stroke="#111" stroke-width="0.8" fill="none"/><path d="M138.40 398.31L199.00 387.85L259.60 328.18L320.20 402.59" fill="none" stroke="#000" stroke-width="0.75"/><path d="M138.40 397.36V399.26M135.00 397.36H141.80M135.00 399.26H141.80" stroke="#111" stroke-width="0.8" fill="none"/><path d="M199.00 385.47V390.23M195.60 385.47H202.40M195.60 390.23H202.40" stroke="#111" stroke-width="0.8" fill="none"/><path d="M259.60 320.57V335.78M256.20 320.57H263.00M256.20 335.78H263.00" stroke="#111" stroke-width="0.8" fill="none"/><path d="M320.20 400.21V404.97M316.80 400.21H323.60M316.80 404.97H323.60" stroke="#111" stroke-width="0.8" fill="none"/>
<circle cx="138.40" cy="407.82" r="2.50" fill="#000" stroke="#000" stroke-width="0.8"/>
<circle cx="199.00" cy="397.84" r="2.50" fill="#000" stroke="#000" stroke-width="0.8"/>
<circle cx="259.60" cy="366.45" r="2.50" fill="#000" stroke="#000" stroke-width="0.8"/>
<circle cx="320.20" cy="398.79" r="2.50" fill="#000" stroke="#000" stroke-width="0.8"/>
<circle cx="138.40" cy="402.59" r="2.50" fill="#fff" stroke="#000" stroke-width="0.8"/>
<circle cx="199.00" cy="390.23" r="2.50" fill="#fff" stroke="#000" stroke-width="0.8"/>
<circle cx="259.60" cy="331.74" r="2.50" fill="#fff" stroke="#000" stroke-width="0.8"/>
<circle cx="320.20" cy="403.07" r="2.50" fill="#fff" stroke="#000" stroke-width="0.8"/>
<path d="M138.40 407.24L141.03 402.62L135.78 402.62Z" fill="#000" stroke="#000" stroke-width="0.8"/>
<path d="M199.00 394.88L201.62 390.26L196.38 390.26Z" fill="#000" stroke="#000" stroke-width="0.8"/>
<path d="M259.60 345.90L262.23 341.28L256.98 341.28Z" fill="#000" stroke="#000" stroke-width="0.8"/>
<path d="M320.20 403.92L322.83 399.29L317.58 399.29Z" fill="#000" stroke="#000" stroke-width="0.8"/>
<path d="M138.40 400.79L141.03 405.42L135.78 405.42Z" fill="#fff" stroke="#000" stroke-width="0.8"/>
<path d="M199.00 378.44L201.62 383.07L196.38 383.07Z" fill="#fff" stroke="#000" stroke-width="0.8"/>
<path d="M259.60 332.32L262.23 336.95L256.98 336.95Z" fill="#fff" stroke="#000" stroke-width="0.8"/>
<path d="M320.20 399.37L322.83 403.99L317.58 403.99Z" fill="#fff" stroke="#000" stroke-width="0.8"/>
<rect x="136.20" y="404.20" width="4.40" height="4.40" fill="#000" stroke="#000" stroke-width="0.8"/>
<rect x="196.80" y="393.74" width="4.40" height="4.40" fill="#000" stroke="#000" stroke-width="0.8"/>
<rect x="257.40" y="364.25" width="4.40" height="4.40" fill="#000" stroke="#000" stroke-width="0.8"/>
<rect x="318.00" y="395.16" width="4.40" height="4.40" fill="#000" stroke="#000" stroke-width="0.8"/>
<rect x="136.20" y="395.16" width="4.40" height="4.40" fill="#fff" stroke="#000" stroke-width="0.8"/>
<rect x="196.80" y="371.86" width="4.40" height="4.40" fill="#fff" stroke="#000" stroke-width="0.8"/>
<rect x="257.40" y="306.72" width="4.40" height="4.40" fill="#fff" stroke="#000" stroke-width="0.8"/>
<rect x="318.00" y="397.54" width="4.40" height="4.40" fill="#fff" stroke="#000" stroke-width="0.8"/>
<path d="M138.40 403.87L141.40 406.87L138.40 409.87L135.40 406.87Z" fill="#000" stroke="#000" stroke-width="0.8"/>
<path d="M199.00 394.84L202.00 397.84L199.00 400.84L196.00 397.84Z" fill="#000" stroke="#000" stroke-width="0.8"/>
<path d="M259.60 372.49L262.60 375.49L259.60 378.49L256.60 375.49Z" fill="#000" stroke="#000" stroke-width="0.8"/>
<path d="M320.20 402.44L323.20 405.44L320.20 408.44L317.20 405.44Z" fill="#000" stroke="#000" stroke-width="0.8"/>
<path d="M138.40 401.97L141.40 404.97L138.40 407.97L135.40 404.97Z" fill="#fff" stroke="#000" stroke-width="0.8"/>
<path d="M199.00 390.56L202.00 393.56L199.00 396.56L196.00 393.56Z" fill="#fff" stroke="#000" stroke-width="0.8"/>
<path d="M259.60 356.80L262.60 359.80L259.60 362.80L256.60 359.80Z" fill="#fff" stroke="#000" stroke-width="0.8"/>
<path d="M320.20 401.02L323.20 404.02L320.20 407.02L317.20 404.02Z" fill="#fff" stroke="#000" stroke-width="0.8"/>
<path d="M138.40 401.27L141.03 405.89L135.78 405.89Z" fill="#000" stroke="#000" stroke-width="0.8"/>
<path d="M199.00 392.23L201.62 396.86L196.38 396.86Z" fill="#000" stroke="#000" stroke-width="0.8"/>
<path d="M259.60 347.06L262.23 351.69L256.98 351.69Z" fill="#000" stroke="#000" stroke-width="0.8"/>
<path d="M320.20 396.51L322.83 401.14L317.58 401.14Z" fill="#000" stroke="#000" stroke-width="0.8"/>
<path d="M138.40 401.06L141.03 396.44L135.78 396.44Z" fill="#fff" stroke="#000" stroke-width="0.8"/>
<path d="M199.00 390.60L201.62 385.98L196.38 385.98Z" fill="#fff" stroke="#000" stroke-width="0.8"/>
<path d="M259.60 330.93L262.23 326.30L256.98 326.30Z" fill="#fff" stroke="#000" stroke-width="0.8"/>
<path d="M320.20 405.34L322.83 400.72L317.58 400.72Z" fill="#fff" stroke="#000" stroke-width="0.8"/>
<path d="M441.30 390.70L501.90 380.24L562.50 338.88L623.10 386.43" fill="none" stroke="#000" stroke-width="0.75"/><path d="M441.30 389.75V391.66M437.90 389.75H444.70M437.90 391.66H444.70" stroke="#111" stroke-width="0.8" fill="none"/><path d="M501.90 378.82V381.67M498.50 378.82H505.30M498.50 381.67H505.30" stroke="#111" stroke-width="0.8" fill="none"/><path d="M562.50 335.07V342.68M559.10 335.07H565.90M559.10 342.68H565.90" stroke="#111" stroke-width="0.8" fill="none"/><path d="M623.10 384.52V388.33M619.70 384.52H626.50M619.70 388.33H626.50" stroke="#111" stroke-width="0.8" fill="none"/><path d="M441.30 386.43L501.90 360.99L562.50 296.56L623.10 388.33" fill="none" stroke="#000" stroke-width="0.75"/><path d="M441.30 385.47V387.38M437.90 385.47H444.70M437.90 387.38H444.70" stroke="#111" stroke-width="0.8" fill="none"/><path d="M501.90 358.61V363.36M498.50 358.61H505.30M498.50 363.36H505.30" stroke="#111" stroke-width="0.8" fill="none"/><path d="M562.50 291.80V301.31M559.10 291.80H565.90M559.10 301.31H565.90" stroke="#111" stroke-width="0.8" fill="none"/><path d="M623.10 385.47V391.18M619.70 385.47H626.50M619.70 391.18H626.50" stroke="#111" stroke-width="0.8" fill="none"/><path d="M441.30 386.90L501.90 373.11L562.50 311.30L623.10 382.62" fill="none" stroke="#000" stroke-width="0.75"/><path d="M441.30 385.95V387.85M437.90 385.95H444.70M437.90 387.85H444.70" stroke="#111" stroke-width="0.8" fill="none"/><path d="M501.90 371.21V375.01M498.50 371.21H505.30M498.50 375.01H505.30" stroke="#111" stroke-width="0.8" fill="none"/><path d="M562.50 306.54V316.05M559.10 306.54H565.90M559.10 316.05H565.90" stroke="#111" stroke-width="0.8" fill="none"/><path d="M623.10 380.24V385.00M619.70 380.24H626.50M619.70 385.00H626.50" stroke="#111" stroke-width="0.8" fill="none"/><path d="M441.30 385.47L501.90 371.68L562.50 299.88L623.10 384.05" fill="none" stroke="#000" stroke-width="0.75"/><path d="M441.30 384.52V386.43M437.90 384.52H444.70M437.90 386.43H444.70" stroke="#111" stroke-width="0.8" fill="none"/><path d="M501.90 369.78V373.59M498.50 369.78H505.30M498.50 373.59H505.30" stroke="#111" stroke-width="0.8" fill="none"/><path d="M562.50 295.13V304.64M559.10 295.13H565.90M559.10 304.64H565.90" stroke="#111" stroke-width="0.8" fill="none"/><path d="M623.10 381.67V386.43M619.70 381.67H626.50M619.70 386.43H626.50" stroke="#111" stroke-width="0.8" fill="none"/><path d="M441.30 388.80L501.90 377.87L562.50 342.20L623.10 379.29" fill="none" stroke="#000" stroke-width="0.75"/><path d="M441.30 387.85V389.75M437.90 387.85H444.70M437.90 389.75H444.70" stroke="#111" stroke-width="0.8" fill="none"/><path d="M501.90 375.96V379.77M498.50 375.96H505.30M498.50 379.77H505.30" stroke="#111" stroke-width="0.8" fill="none"/><path d="M562.50 337.45V346.96M559.10 337.45H565.90M559.10 346.96H565.90" stroke="#111" stroke-width="0.8" fill="none"/><path d="M623.10 377.39V381.19M619.70 377.39H626.50M619.70 381.19H626.50" stroke="#111" stroke-width="0.8" fill="none"/><path d="M441.30 382.62L501.90 353.62L562.50 267.07L623.10 381.67" fill="none" stroke="#000" stroke-width="0.75"/><path d="M441.30 381.19V384.05M437.90 381.19H444.70M437.90 384.05H444.70" stroke="#111" stroke-width="0.8" fill="none"/><path d="M501.90 350.76V356.47M498.50 350.76H505.30M498.50 356.47H505.30" stroke="#111" stroke-width="0.8" fill="none"/><path d="M562.50 254.24V279.91M559.10 254.24H565.90M559.10 279.91H565.90" stroke="#111" stroke-width="0.8" fill="none"/><path d="M623.10 379.29V384.05M619.70 379.29H626.50M619.70 384.05H626.50" stroke="#111" stroke-width="0.8" fill="none"/><path d="M441.30 389.75L501.90 381.67L562.50 348.86L623.10 389.75" fill="none" stroke="#000" stroke-width="0.75"/><path d="M441.30 388.80V390.70M437.90 388.80H444.70M437.90 390.70H444.70" stroke="#111" stroke-width="0.8" fill="none"/><path d="M501.90 379.77V383.57M498.50 379.77H505.30M498.50 383.57H505.30" stroke="#111" stroke-width="0.8" fill="none"/><path d="M562.50 343.15V354.57M559.10 343.15H565.90M559.10 354.57H565.90" stroke="#111" stroke-width="0.8" fill="none"/><path d="M623.10 387.85V391.66M619.70 387.85H626.50M619.70 391.66H626.50" stroke="#111" stroke-width="0.8" fill="none"/><path d="M441.30 388.09L501.90 375.96L562.50 329.84L623.10 385.47" fill="none" stroke="#000" stroke-width="0.75"/><path d="M441.30 387.14V389.04M437.90 387.14H444.70M437.90 389.04H444.70" stroke="#111" stroke-width="0.8" fill="none"/><path d="M501.90 374.06V377.87M498.50 374.06H505.30M498.50 377.87H505.30" stroke="#111" stroke-width="0.8" fill="none"/><path d="M562.50 325.09V334.60M559.10 325.09H565.90M559.10 334.60H565.90" stroke="#111" stroke-width="0.8" fill="none"/><path d="M623.10 383.57V387.38M619.70 383.57H626.50M619.70 387.38H626.50" stroke="#111" stroke-width="0.8" fill="none"/><path d="M441.30 386.43L501.90 374.54L562.50 318.90L623.10 379.77" fill="none" stroke="#000" stroke-width="0.75"/><path d="M441.30 385.47V387.38M437.90 385.47H444.70M437.90 387.38H444.70" stroke="#111" stroke-width="0.8" fill="none"/><path d="M501.90 372.64V376.44M498.50 372.64H505.30M498.50 376.44H505.30" stroke="#111" stroke-width="0.8" fill="none"/><path d="M562.50 314.15V323.66M559.10 314.15H565.90M559.10 323.66H565.90" stroke="#111" stroke-width="0.8" fill="none"/><path d="M623.10 377.87V381.67M619.70 377.87H626.50M619.70 381.67H626.50" stroke="#111" stroke-width="0.8" fill="none"/><path d="M441.30 381.91L501.90 370.26L562.50 292.75L623.10 387.38" fill="none" stroke="#000" stroke-width="0.75"/><path d="M441.30 380.96V382.86M437.90 380.96H444.70M437.90 382.86H444.70" stroke="#111" stroke-width="0.8" fill="none"/><path d="M501.90 367.88V372.64M498.50 367.88H505.30M498.50 372.64H505.30" stroke="#111" stroke-width="0.8" fill="none"/><path d="M562.50 286.57V298.93M559.10 286.57H565.90M559.10 298.93H565.90" stroke="#111" stroke-width="0.8" fill="none"/><path d="M623.10 385.00V389.75M619.70 385.00H626.50M619.70 389.75H626.50" stroke="#111" stroke-width="0.8" fill="none"/>
<circle cx="441.30" cy="390.70" r="2.50" fill="#000" stroke="#000" stroke-width="0.8"/>
<circle cx="501.90" cy="380.24" r="2.50" fill="#000" stroke="#000" stroke-width="0.8"/>
<circle cx="562.50" cy="338.88" r="2.50" fill="#000" stroke="#000" stroke-width="0.8"/>
<circle cx="623.10" cy="386.43" r="2.50" fill="#000" stroke="#000" stroke-width="0.8"/>
<circle cx="441.30" cy="386.43" r="2.50" fill="#fff" stroke="#000" stroke-width="0.8"/>
<circle cx="501.90" cy="360.99" r="2.50" fill="#fff" stroke="#000" stroke-width="0.8"/>
<circle cx="562.50" cy="296.56" r="2.50" fill="#fff" stroke="#000" stroke-width="0.8"/>
<circle cx="623.10" cy="388.33" r="2.50" fill="#fff" stroke="#000" stroke-width="0.8"/>
<path d="M441.30 389.65L443.93 385.03L438.68 385.03Z" fill="#000" stroke="#000" stroke-width="0.8"/>
<path d="M501.90 375.86L504.53 371.24L499.28 371.24Z" fill="#000" stroke="#000" stroke-width="0.8"/>
<path d="M562.50 314.05L565.12 309.42L559.88 309.42Z" fill="#000" stroke="#000" stroke-width="0.8"/>
<path d="M623.10 385.37L625.73 380.75L620.48 380.75Z" fill="#000" stroke="#000" stroke-width="0.8"/>
<path d="M441.30 382.72L443.93 387.35L438.68 387.35Z" fill="#fff" stroke="#000" stroke-width="0.8"/>
<path d="M501.90 368.93L504.53 373.56L499.28 373.56Z" fill="#fff" stroke="#000" stroke-width="0.8"/>
<path d="M562.50 297.13L565.12 301.76L559.88 301.76Z" fill="#fff" stroke="#000" stroke-width="0.8"/>
<path d="M623.10 381.30L625.73 385.92L620.48 385.92Z" fill="#fff" stroke="#000" stroke-width="0.8"/>
<rect x="439.10" y="386.60" width="4.40" height="4.40" fill="#000" stroke="#000" stroke-width="0.8"/>
<rect x="499.70" y="375.67" width="4.40" height="4.40" fill="#000" stroke="#000" stroke-width="0.8"/>
<rect x="560.30" y="340.00" width="4.40" height="4.40" fill="#000" stroke="#000" stroke-width="0.8"/>
<rect x="620.90" y="377.09" width="4.40" height="4.40" fill="#000" stroke="#000" stroke-width="0.8"/>
<rect x="439.10" y="380.42" width="4.40" height="4.40" fill="#fff" stroke="#000" stroke-width="0.8"/>
<rect x="499.70" y="351.42" width="4.40" height="4.40" fill="#fff" stroke="#000" stroke-width="0.8"/>
<rect x="560.30" y="264.87" width="4.40" height="4.40" fill="#fff" stroke="#000" stroke-width="0.8"/>
<rect x="620.90" y="379.47" width="4.40" height="4.40" fill="#fff" stroke="#000" stroke-width="0.8"/>
<path d="M441.30 386.75L444.30 389.75L441.30 392.75L438.30 389.75Z" fill="#000" stroke="#000" stroke-width="0.8"/>
<path d="M501.90 378.67L504.90 381.67L501.90 384.67L498.90 381.67Z" fill="#000" stroke="#000" stroke-width="0.8"/>
<path d="M562.50 345.86L565.50 348.86L562.50 351.86L559.50 348.86Z" fill="#000" stroke="#000" stroke-width="0.8"/>
<path d="M623.10 386.75L626.10 389.75L623.10 392.75L620.10 389.75Z" fill="#000" stroke="#000" stroke-width="0.8"/>
<path d="M441.30 385.09L444.30 388.09L441.30 391.09L438.30 388.09Z" fill="#fff" stroke="#000" stroke-width="0.8"/>
<path d="M501.90 372.96L504.90 375.96L501.90 378.96L498.90 375.96Z" fill="#fff" stroke="#000" stroke-width="0.8"/>
<path d="M562.50 326.84L565.50 329.84L562.50 332.84L559.50 329.84Z" fill="#fff" stroke="#000" stroke-width="0.8"/>
<path d="M623.10 382.47L626.10 385.47L623.10 388.47L620.10 385.47Z" fill="#fff" stroke="#000" stroke-width="0.8"/>
<path d="M441.30 383.68L443.93 388.30L438.68 388.30Z" fill="#000" stroke="#000" stroke-width="0.8"/>
<path d="M501.90 371.79L504.53 376.41L499.28 376.41Z" fill="#000" stroke="#000" stroke-width="0.8"/>
<path d="M562.50 316.15L565.12 320.78L559.88 320.78Z" fill="#000" stroke="#000" stroke-width="0.8"/>
<path d="M623.10 377.02L625.73 381.64L620.48 381.64Z" fill="#000" stroke="#000" stroke-width="0.8"/>
<path d="M441.30 384.66L443.93 380.03L438.68 380.03Z" fill="#fff" stroke="#000" stroke-width="0.8"/>
<path d="M501.90 373.01L504.53 368.38L499.28 368.38Z" fill="#fff" stroke="#000" stroke-width="0.8"/>
<path d="M562.50 295.50L565.12 290.88L559.88 290.88Z" fill="#fff" stroke="#000" stroke-width="0.8"/>
<path d="M623.10 390.13L625.73 385.50L620.48 385.50Z" fill="#fff" stroke="#000" stroke-width="0.8"/>
<path d="M138.40 617.86L199.00 602.69L259.60 553.16L320.20 613.59" fill="none" stroke="#000" stroke-width="0.75"/><path d="M138.40 616.91V618.81M135.00 616.91H141.80M135.00 618.81H141.80" stroke="#111" stroke-width="0.8" fill="none"/><path d="M199.00 601.74V603.64M195.60 601.74H202.40M195.60 603.64H202.40" stroke="#111" stroke-width="0.8" fill="none"/><path d="M259.60 548.66V557.66M256.20 548.66H263.00M256.20 557.66H263.00" stroke="#111" stroke-width="0.8" fill="none"/><path d="M320.20 612.65V614.54M316.80 612.65H323.60M316.80 614.54H323.60" stroke="#111" stroke-width="0.8" fill="none"/>
<path d="M138.40 616.91L199.00 602.22L259.60 563.59L320.20 613.12" fill="none" stroke="#000" stroke-width="0.75"/><path d="M138.40 615.96V617.86M135.00 615.96H141.80M135.00 617.86H141.80" stroke="#111" stroke-width="0.8" fill="none"/><path d="M199.00 601.27V603.17M195.60 601.27H202.40M195.60 603.17H202.40" stroke="#111" stroke-width="0.8" fill="none"/><path d="M259.60 558.85V568.33M256.20 558.85H263.00M256.20 568.33H263.00" stroke="#111" stroke-width="0.8" fill="none"/><path d="M320.20 612.17V614.07M316.80 612.17H323.60M316.80 614.07H323.60" stroke="#111" stroke-width="0.8" fill="none"/>
<circle cx="138.40" cy="617.86" r="2.55" fill="#000" stroke="#000" stroke-width="0.8"/>
<circle cx="199.00" cy="602.69" r="2.55" fill="#000" stroke="#000" stroke-width="0.8"/>
<circle cx="259.60" cy="553.16" r="2.55" fill="#000" stroke="#000" stroke-width="0.8"/>
<circle cx="320.20" cy="613.59" r="2.55" fill="#000" stroke="#000" stroke-width="0.8"/>
<circle cx="138.40" cy="616.91" r="2.55" fill="#fff" stroke="#000" stroke-width="0.8"/>
<circle cx="199.00" cy="602.22" r="2.55" fill="#fff" stroke="#000" stroke-width="0.8"/>
<circle cx="259.60" cy="563.59" r="2.55" fill="#fff" stroke="#000" stroke-width="0.8"/>
<circle cx="320.20" cy="613.12" r="2.55" fill="#fff" stroke="#000" stroke-width="0.8"/>
<path d="M441.30 616.44L501.90 599.37L562.50 532.30L623.10 610.75" fill="none" stroke="#000" stroke-width="0.75"/><path d="M441.30 615.49V617.39M437.90 615.49H444.70M437.90 617.39H444.70" stroke="#111" stroke-width="0.8" fill="none"/><path d="M501.90 598.43V600.32M498.50 598.43H505.30M498.50 600.32H505.30" stroke="#111" stroke-width="0.8" fill="none"/><path d="M562.50 528.51V536.10M559.10 528.51H565.90M559.10 536.10H565.90" stroke="#111" stroke-width="0.8" fill="none"/><path d="M623.10 609.80V611.70M619.70 609.80H626.50M619.70 611.70H626.50" stroke="#111" stroke-width="0.8" fill="none"/>
<path d="M441.30 614.54L501.90 596.53L562.50 539.65L623.10 610.75" fill="none" stroke="#000" stroke-width="0.75"/><path d="M441.30 613.59V615.49M437.90 613.59H444.70M437.90 615.49H444.70" stroke="#111" stroke-width="0.8" fill="none"/><path d="M501.90 595.58V597.48M498.50 595.58H505.30M498.50 597.48H505.30" stroke="#111" stroke-width="0.8" fill="none"/><path d="M562.50 534.91V544.39M559.10 534.91H565.90M559.10 544.39H565.90" stroke="#111" stroke-width="0.8" fill="none"/><path d="M623.10 609.80V611.70M619.70 609.80H626.50M619.70 611.70H626.50" stroke="#111" stroke-width="0.8" fill="none"/>
<circle cx="441.30" cy="616.44" r="2.55" fill="#000" stroke="#000" stroke-width="0.8"/>
<circle cx="501.90" cy="599.37" r="2.55" fill="#000" stroke="#000" stroke-width="0.8"/>
<circle cx="562.50" cy="532.30" r="2.55" fill="#000" stroke="#000" stroke-width="0.8"/>
<circle cx="623.10" cy="610.75" r="2.55" fill="#000" stroke="#000" stroke-width="0.8"/>
<circle cx="441.30" cy="614.54" r="2.55" fill="#fff" stroke="#000" stroke-width="0.8"/>
<circle cx="501.90" cy="596.53" r="2.55" fill="#fff" stroke="#000" stroke-width="0.8"/>
<circle cx="562.50" cy="539.65" r="2.55" fill="#fff" stroke="#000" stroke-width="0.8"/>
<circle cx="623.10" cy="610.75" r="2.55" fill="#fff" stroke="#000" stroke-width="0.8"/>
<line x1="87" y1="21.30" x2="110" y2="21.30" stroke="#000" stroke-width="0.8"/>
<circle cx="98.00" cy="21.30" r="2.50" fill="#000" stroke="#000" stroke-width="0.8"/>
<text x="115.3" y="25.15" font-size="10.08" style="stroke:#000;stroke-width:0.15px">Weedy</text>
<line x1="87" y1="29.40" x2="110" y2="29.40" stroke="#000" stroke-width="0.8"/>
<circle cx="98.00" cy="29.40" r="2.50" fill="#fff" stroke="#000" stroke-width="0.8"/>
<text x="115.3" y="33.25" font-size="10.08" style="stroke:#000;stroke-width:0.15px">Weed competition up to 20 DAS</text>
<line x1="87" y1="37.50" x2="110" y2="37.50" stroke="#000" stroke-width="0.8"/>
<path d="M98.00 40.25L100.62 35.62L95.38 35.62Z" fill="#000" stroke="#000" stroke-width="0.8"/>
<text x="115.3" y="41.35" font-size="10.08" style="stroke:#000;stroke-width:0.15px">Weed competition up to 40 DAS</text>
<line x1="87" y1="45.60" x2="110" y2="45.60" stroke="#000" stroke-width="0.8"/>
<path d="M98.00 42.85L100.62 47.47L95.38 47.47Z" fill="#fff" stroke="#000" stroke-width="0.8"/>
<text x="115.3" y="49.45" font-size="10.08" style="stroke:#000;stroke-width:0.15px">Weed competition up to 60 DAS</text>
<line x1="87" y1="53.70" x2="110" y2="53.70" stroke="#000" stroke-width="0.8"/>
<rect x="95.80" y="51.50" width="4.40" height="4.40" fill="#000" stroke="#000" stroke-width="0.8"/>
<text x="115.3" y="57.55" font-size="10.08" style="stroke:#000;stroke-width:0.15px">Weed competition up to 80 DAS</text>
<line x1="87" y1="61.80" x2="110" y2="61.80" stroke="#000" stroke-width="0.8"/>
<rect x="95.80" y="59.60" width="4.40" height="4.40" fill="#fff" stroke="#000" stroke-width="0.8"/>
<text x="115.3" y="65.65" font-size="10.08" style="stroke:#000;stroke-width:0.15px">Weed free</text>
<line x1="87" y1="69.90" x2="110" y2="69.90" stroke="#000" stroke-width="0.8"/>
<path d="M98.00 66.90L101.00 69.90L98.00 72.90L95.00 69.90Z" fill="#000" stroke="#000" stroke-width="0.8"/>
<text x="115.3" y="73.75" font-size="10.08" style="stroke:#000;stroke-width:0.15px">Weed free till to 20 DAS</text>
<line x1="87" y1="78.00" x2="110" y2="78.00" stroke="#000" stroke-width="0.8"/>
<path d="M98.00 75.00L101.00 78.00L98.00 81.00L95.00 78.00Z" fill="#fff" stroke="#000" stroke-width="0.8"/>
<text x="115.3" y="81.85" font-size="10.08" style="stroke:#000;stroke-width:0.15px">Weed free till to 40 DAS</text>
<line x1="87" y1="86.10" x2="110" y2="86.10" stroke="#000" stroke-width="0.8"/>
<path d="M98.00 83.35L100.62 87.97L95.38 87.97Z" fill="#000" stroke="#000" stroke-width="0.8"/>
<text x="115.3" y="89.95" font-size="10.08" style="stroke:#000;stroke-width:0.15px">Weed free till to 60 DAS</text>
<line x1="87" y1="94.20" x2="110" y2="94.20" stroke="#000" stroke-width="0.8"/>
<path d="M98.00 96.95L100.62 92.32L95.38 92.32Z" fill="#fff" stroke="#000" stroke-width="0.8"/>
<text x="115.3" y="98.05" font-size="10.08" style="stroke:#000;stroke-width:0.15px">Weed free till to 80 DAS</text>
<text class="sr" x="329.0" y="31.8" style="font-size:10.4px;font-weight:bold;stroke:#000;stroke-width:0.1px" text-anchor="middle">A</text>
<text x="332.8" y="46.6" font-size="10.1" text-anchor="middle">Punjab-2008 (Desi)</text>
<text x="332.9" y="57.8" font-size="10.1" text-anchor="middle">2017-18</text>
<text class="sr" x="633.7" y="34.5" style="font-size:10.5px;font-weight:bold;stroke:#000;stroke-width:0.1px" text-anchor="middle">B</text>
<text x="635.3" y="48.5" font-size="10.1" text-anchor="middle">Punjab-2008 (Desi)</text>
<text x="635.0" y="59.9" font-size="10.1" text-anchor="middle">2018-19</text>
<text class="sr" x="333.0" y="238.8" style="font-size:11.7px;font-weight:normal;stroke:#000;stroke-width:0.25px" text-anchor="middle">C</text>
<text x="333.8" y="255.7" font-size="10.1" text-anchor="middle">Noor-2009 (Kabuli)</text>
<text x="333.7" y="267.5" font-size="10.1" text-anchor="middle">2017-18</text>
<text class="sr" x="640.3" y="241.7" style="font-size:11.7px;font-weight:normal;stroke:#000;stroke-width:0.25px" text-anchor="middle">D</text>
<text x="633.8" y="257.5" font-size="10.1" text-anchor="middle">Noor-2009 (Kabuli)</text>
<text x="633.8" y="268.7" font-size="10.1" text-anchor="middle">2018-19</text>
<text class="sr" x="331.8" y="454.8" style="font-size:11.5px;font-weight:normal;stroke:#000;stroke-width:0.25px" text-anchor="middle">E</text>
<line x1="277.60" y1="465.50" x2="296.60" y2="465.50" stroke="#000" stroke-width="0.8"/>
<circle cx="287.40" cy="465.50" r="2.70" fill="#000" stroke="#000" stroke-width="0.8"/>
<text x="301.60" y="468.20" font-size="8.4">Punjab-2008 (Desi)</text>
<line x1="277.60" y1="475.40" x2="296.60" y2="475.40" stroke="#000" stroke-width="0.8"/>
<circle cx="287.40" cy="475.40" r="2.70" fill="#fff" stroke="#000" stroke-width="0.8"/>
<text x="301.60" y="478.10" font-size="8.4">Noor-2009 (Kabuli)</text>
<text x="333.2" y="490.7" font-size="8.2" text-anchor="middle">2017-18</text>
<text class="sr" x="630.3" y="453.8" style="font-size:11.5px;font-weight:normal;stroke:#000;stroke-width:0.25px" text-anchor="middle">F</text>
<line x1="574.20" y1="465.50" x2="593.20" y2="465.50" stroke="#000" stroke-width="0.8"/>
<circle cx="584.00" cy="465.50" r="2.70" fill="#000" stroke="#000" stroke-width="0.8"/>
<text x="598.00" y="468.20" font-size="8.4">Punjab-2008 (Desi)</text>
<line x1="574.20" y1="475.40" x2="593.20" y2="475.40" stroke="#000" stroke-width="0.8"/>
<circle cx="584.00" cy="475.40" r="2.70" fill="#fff" stroke="#000" stroke-width="0.8"/>
<text x="598.00" y="478.10" font-size="8.4">Noor-2009 (Kabuli)</text>
<text x="631.3" y="493.4" font-size="8.2" text-anchor="middle">2018-19</text>
</svg></body></html>
